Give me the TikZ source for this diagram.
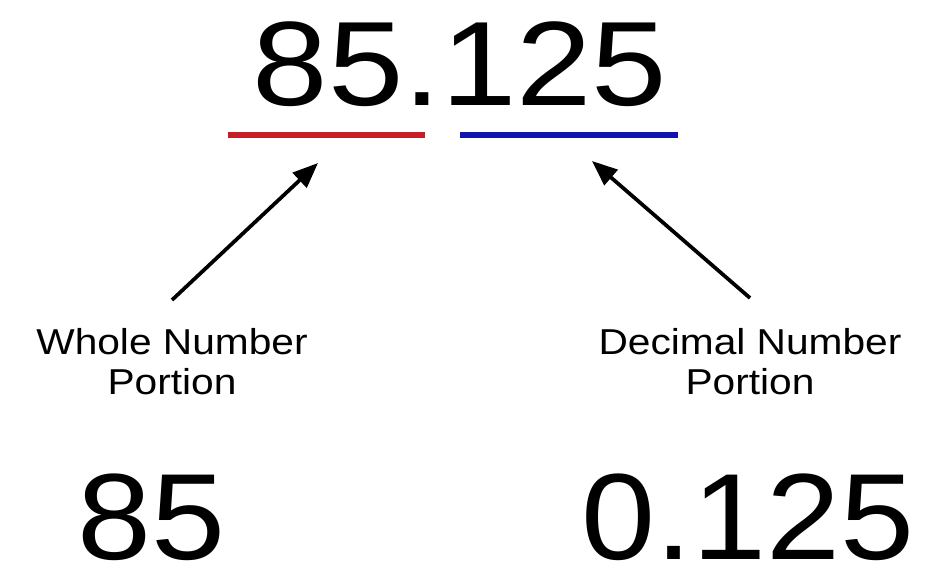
\documentclass[tikz,border=0pt]{standalone}
\usepackage{fontspec}
\setmainfont{Liberation Sans}
\usetikzlibrary{arrows.meta}
\definecolor{wholered}{RGB}{200,28,38}
\definecolor{decblue}{RGB}{18,18,175}
\begin{document}
\begin{tikzpicture}[x=0.75pt, y=-0.75pt,
  every node/.style={inner sep=0pt, xscale=1.13},
  bignum/.style={anchor=base, font=\fontsize{90}{90}\selectfont},
  label/.style={align=center, font=\fontsize{27}{30}\selectfont},
  pointer/.style={-{Triangle[length=19pt, width=15pt]}, line width=2.8pt}]
  \useasboundingbox (0,0) rectangle (926,571);
  \node[bignum] (number) at (460,105) {85.125};
  \draw[wholered, line width=4.3pt] (228,135) coordinate (redL) -- (425,135) coordinate (redR);
  \draw[decblue, line width=4.3pt] (460,135) coordinate (blueL) -- (678,135) coordinate (blueR);
  \node[label] (whole) at (172,362) {Whole Number\\Portion};
  \node[label] (decimal) at (750,362) {Decimal Number\\Portion};
  \coordinate (wholetail) at (172,300);
  \coordinate (wholetip) at (318,163);
  \coordinate (dectail) at (750,298);
  \coordinate (dectip) at (592,161);
  \draw[pointer] (wholetail) -- (wholetip);
  \draw[pointer] (dectail) -- (dectip);
  \node[bignum, font=\fontsize{92}{92}\selectfont, xscale=0.96] (wholepart) at (152,559) {85};
  \node[bignum, font=\fontsize{92}{92}\selectfont, xscale=0.96] (decpart) at (748,559) {0.125};
\end{tikzpicture}
\end{document}
